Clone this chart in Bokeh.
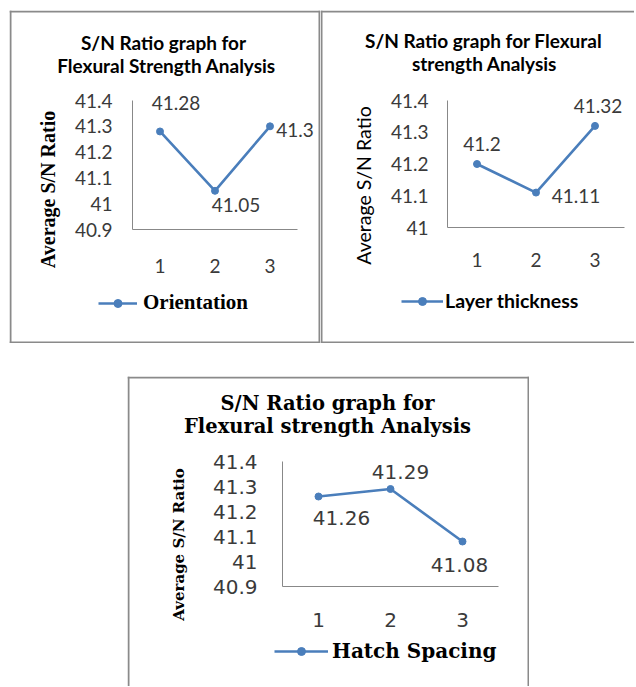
import math
from bokeh.plotting import figure
from bokeh.models import (Range1d, FixedTicker, NumeralTickFormatter, Span,
                          Label, LabelSet, ColumnDataSource, Legend, LegendItem)
from bokeh.layouts import column, row
from bokeh.core.properties import value
from bokeh.embed import file_html
from bokeh.resources import INLINE

# ---------------- data ----------------
categories = ["1", "2", "3"]
orientation = [41.28, 41.05, 41.30]
layer_thickness = [41.20, 41.11, 41.32]
hatch_spacing = [41.26, 41.29, 41.08]
ticks_a = [40.9, 41.0, 41.1, 41.2, 41.3, 41.4]
ticks_b = [41.0, 41.1, 41.2, 41.3, 41.4]

BLUE = "#4a7ebb"
AXIS = "#888888"
FRAME = "#8a8a8a"
TXT = "#3a3a3a"
SERIF = "Liberation Serif"
SANS = "Lato"


def make_panel(values, ticks, name, cfg):
    W, H = cfg["w"], cfg["h"]
    L, R, T, B = cfg["box"]          # axes box inside the canvas (pixels)
    n = len(categories)
    xs = list(range(1, n + 1))
    x0, x1 = 0.5, n + 0.5
    y0, y1 = ticks[0], ticks[-1]
    kx = (x1 - x0) / (R - L)
    ky = (y1 - y0) / (B - T)
    p = figure(x_range=Range1d(x0 - L * kx, x1 + (W - R) * kx),
               y_range=Range1d(y0 - (H - B) * ky, y1 + T * ky),
               width=W, height=H,
               output_backend="svg", toolbar_location=None,
               min_border=0)
    p.background_fill_color = "white"
    p.border_fill_color = "white"
    p.outline_line_color = None
    p.xgrid.visible = False
    p.ygrid.visible = False
    for ax in (p.xaxis[0], p.yaxis[0]):
        ax.axis_line_color = AXIS
        ax.axis_line_width = 1
        ax.major_tick_line_color = None
        ax.minor_tick_line_color = None
        ax.major_tick_out = 0
        ax.major_tick_in = 0
        ax.major_label_text_font = cfg["tick_font"]
        ax.major_label_text_font_size = cfg["tick_size"]
        ax.major_label_text_color = TXT
    p.yaxis[0].fixed_location = x0
    p.yaxis[0].bounds = (y0, y1)
    p.yaxis[0].ticker = FixedTicker(ticks=ticks)
    p.yaxis[0].formatter = NumeralTickFormatter(format="0.[0]")
    p.yaxis[0].major_label_standoff = cfg["ystand"]
    p.xaxis[0].fixed_location = y0
    p.xaxis[0].bounds = (x0, x1)
    p.xaxis[0].ticker = FixedTicker(ticks=xs)
    p.xaxis[0].major_label_overrides = {x: c for x, c in zip(xs, categories)}
    p.xaxis[0].major_label_standoff = cfg["xstand"]

    # panel border (screen units, frame == whole canvas)
    sides = {"left": (1, "height"), "right": (W - 1, "height"),
             "top": (H - 1, "width"), "bottom": (1, "width")}
    for s in cfg["sides"]:
        loc, dim = sides[s]
        p.add_layout(Span(location=loc, location_units="screen", dimension=dim,
                          line_color=FRAME, line_width=2))

    src = ColumnDataSource(dict(x=xs, y=values,
                                t=[f"{v:g}" for v in values],
                                dx=cfg["dx"], dy=cfg["dy"]))
    lr = p.line("x", "y", source=src, line_color=BLUE, line_width=2.6)
    sr = p.scatter("x", "y", source=src, size=7, fill_color=BLUE, line_color=BLUE)
    p.add_layout(LabelSet(x="x", y="y", text="t", source=src,
                          x_offset="dx", y_offset="dy",
                          text_align="center", text_baseline="middle",
                          text_font=value(cfg["tick_font"]),
                          text_font_size=cfg["tick_size"], text_color=TXT))

    for txt, (sx, sy) in zip(cfg["title"], cfg["title_pos"]):
        p.add_layout(Label(x=sx, y=sy, x_units="screen", y_units="screen", text=txt,
                           text_align="center", text_baseline="middle",
                           text_font=cfg["title_font"],
                           text_font_size=cfg["title_size"], text_font_style="bold",
                           text_color="black"))
    p.add_layout(Label(x=cfg["ylab_pos"][0], y=cfg["ylab_pos"][1],
                       x_units="screen", y_units="screen", text="Average S/N Ratio",
                       angle=math.pi / 2, text_align="center", text_baseline="middle",
                       text_font=cfg["ylab_font"], text_font_size=cfg["ylab_size"],
                       text_font_style=cfg["ylab_style"], text_color="black"))

    leg = Legend(items=[LegendItem(label=name, renderers=[lr, sr])],
                 location=cfg["leg_loc"], glyph_width=cfg["leg_gw"], glyph_height=20,
                 label_height=20, label_standoff=cfg["leg_stand"], padding=0, margin=0,
                 border_line_color=None, background_fill_alpha=0,
                 label_text_font=cfg["leg_font"], label_text_font_size=cfg["leg_size"],
                 label_text_font_style="bold", label_text_color="black")
    p.add_layout(leg)
    p.margin = cfg["margin"]
    return p


cfg1 = dict(w=311, h=333, box=(123, 288, 90, 219), sides=["left", "right", "top", "bottom"],
            tick_font=SANS, tick_size="19px", ystand=20, xstand=29,
            dx=[16, 21, 25], dy=[28, -14, -4],
            title=["S/N Ratio graph for", "Flexural Strength Analysis"],
            title_pos=[(154, 301), (157, 278)], title_font=SANS, title_size="19px",
            ylab_pos=(38, 154), ylab_font=SERIF, ylab_size="20px", ylab_style="bold",
            leg_loc=(89, 28), leg_gw=39, leg_stand=6, leg_font=SERIF, leg_size="21px",
            margin=(10, 0, 0, 9))

cfg2 = dict(w=314, h=333, box=(127, 304, 90, 217), sides=["left", "top", "bottom"],
            tick_font=SANS, tick_size="19px", ystand=19, xstand=25,
            dx=[5, 40, 3], dy=[20, -3, 20],
            title=["S/N Ratio graph for Flexural", "strength Analysis"],
            title_pos=[(163, 303), (164, 280)], title_font=SANS, title_size="19px",
            ylab_pos=(43, 158), ylab_font=SANS, ylab_size="19.5px", ylab_style="normal",
            leg_loc=(81, 31), leg_gw=42, leg_stand=2, leg_font=SANS, leg_size="19.5px",
            margin=(10, 0, 0, 0))

cfg3 = dict(w=402, h=310, box=(155, 371, 85, 210), sides=["left", "right", "top"],
            tick_font="DejaVu Sans", tick_size="20px", ystand=25, xstand=26,
            dx=[23, 10, -3], dy=[-21, 17, -23],
            title=["S/N Ratio graph for", "Flexural strength Analysis"],
            title_pos=[(200, 283), (200, 260)], title_font="DejaVu Serif", title_size="19.5px",
            ylab_pos=(51, 142), ylab_font="DejaVu Serif", ylab_size="15px", ylab_style="bold",
            leg_loc=(147, 23), leg_gw=54, leg_stand=4, leg_font="DejaVu Serif", leg_size="20px",
            margin=(33, 0, 0, 127))

p1 = make_panel(orientation, ticks_a, "Orientation", cfg1)
p2 = make_panel(layer_thickness, ticks_b, "Layer thickness", cfg2)
p3 = make_panel(hatch_spacing, ticks_a, "Hatch Spacing", cfg3)

layout = column(row(p1, p2), p3)
open("out.html", "w").write(file_html(layout, INLINE))
